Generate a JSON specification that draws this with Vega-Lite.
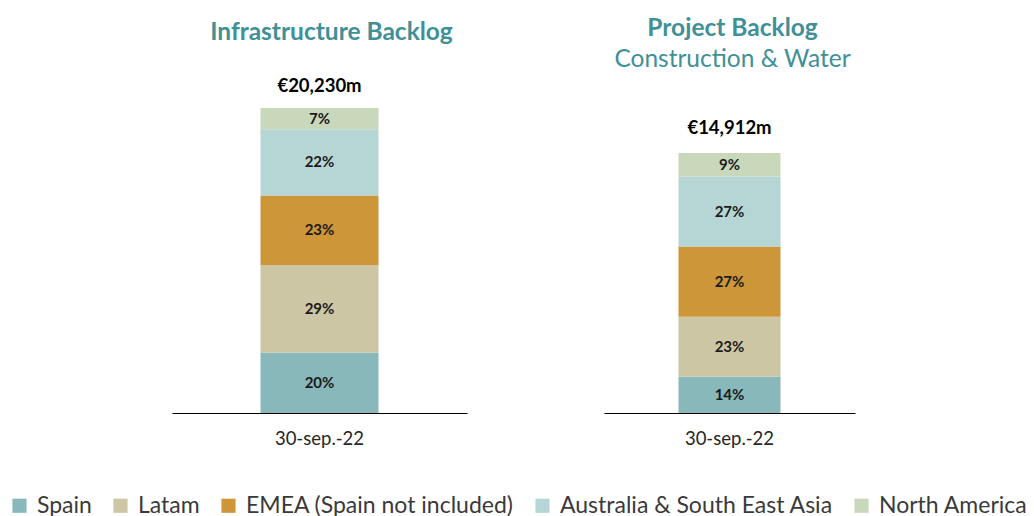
{
  "$schema": "https://vega.github.io/schema/vega-lite/v6.json",
  "background": "white",
  "padding": {"left": 8, "top": 16, "right": 0, "bottom": 0},
  "bounds": "flush",
  "spacing": 137,
  "config": {
    "font": "Lato",
    "view": {"stroke": null},
    "title": {"fontSize": 24.5, "fontWeight": "bold", "color": "#3f9097", "anchor": "middle", "font": "Lato"},
    "axis": {"grid": false}
  },
  "datasets": {
    "segments": [
      {"panel": "Infrastructure", "date": "30-sep.-22", "region": "Spain", "rank": 1, "share": 0.20},
      {"panel": "Infrastructure", "date": "30-sep.-22", "region": "Latam", "rank": 2, "share": 0.29},
      {"panel": "Infrastructure", "date": "30-sep.-22", "region": "EMEA (Spain not included)", "rank": 3, "share": 0.23},
      {"panel": "Infrastructure", "date": "30-sep.-22", "region": "Australia & South East Asia", "rank": 4, "share": 0.22},
      {"panel": "Infrastructure", "date": "30-sep.-22", "region": "North America", "rank": 5, "share": 0.07},
      {"panel": "Project", "date": "30-sep.-22", "region": "Spain", "rank": 1, "share": 0.14},
      {"panel": "Project", "date": "30-sep.-22", "region": "Latam", "rank": 2, "share": 0.23},
      {"panel": "Project", "date": "30-sep.-22", "region": "EMEA (Spain not included)", "rank": 3, "share": 0.27},
      {"panel": "Project", "date": "30-sep.-22", "region": "Australia & South East Asia", "rank": 4, "share": 0.27},
      {"panel": "Project", "date": "30-sep.-22", "region": "North America", "rank": 5, "share": 0.09}
    ],
    "totals": [
      {"panel": "Infrastructure", "label": "€20,230m"},
      {"panel": "Project", "label": "€14,912m"}
    ]
  },
  "resolve": {"scale": {"x": "independent", "y": "independent", "color": "shared"}},
  "hconcat": [
    {
      "width": 295,
      "height": 338,
      "title": {"text": "Infrastructure Backlog", "offset": 30, "dx": 12},
      "data": {"name": "segments"},
      "transform": [{"filter": "datum.panel === 'Infrastructure'"}],
      "encoding": {
        "x": {
          "field": "date", "type": "nominal", "title": null,
          "axis": {"labelAngle": 0, "labelFontSize": 18.5, "labelColor": "#262626", "domainColor": "#000000", "domainWidth": 1, "ticks": false, "labelPadding": 16}
        }
      },
      "layer": [
        {
          "mark": {"type": "bar", "width": 118},
          "encoding": {
            "y": {"field": "share", "type": "quantitative", "stack": "zero", "axis": null, "scale": {"domain": [0, 1.1193], "nice": false}},
            "color": {
              "field": "region", "type": "nominal",
              "scale": {
                "domain": ["Spain", "Latam", "EMEA (Spain not included)", "Australia & South East Asia", "North America"],
                "range": ["#88b8b9", "#cdc6a5", "#cc9639", "#b6d6d6", "#c9d7bb"]
              },
              "legend": {
                "orient": "none", "legendX": -164, "legendY": 419, "direction": "horizontal", "title": null,
                "symbolType": "square", "symbolSize": 200, "symbolStrokeWidth": 0,
                "labelFontSize": 23, "labelColor": "#3a3a3a", "labelOffset": 6, "columnPadding": 17, "labelLimit": 400, "labelFont": "Lato"
              }
            },
            "order": {"field": "rank", "type": "quantitative"}
          }
        },
        {
          "mark": {"type": "text", "fontSize": 15, "fontWeight": "bold", "color": "#1a1a1a", "baseline": "middle"},
          "encoding": {
            "y": {"field": "share", "type": "quantitative", "stack": "zero", "bandPosition": 0.5},
            "detail": {"field": "region"},
            "order": {"field": "rank", "type": "quantitative"},
            "text": {"field": "share", "type": "quantitative", "format": ".0%"}
          }
        },
        {
          "transform": [
            {"aggregate": [{"op": "sum", "field": "share", "as": "top"}], "groupby": ["date", "panel"]},
            {"lookup": "panel", "from": {"data": {"name": "totals"}, "key": "panel", "fields": ["label"]}}
          ],
          "mark": {"type": "text", "fontSize": 18.5, "fontWeight": "bold", "color": "#000000", "baseline": "middle", "dy": -22},
          "encoding": {
            "y": {"field": "top", "type": "quantitative"},
            "text": {"field": "label"}
          }
        }
      ]
    },
    {
      "width": 251,
      "height": 338,
      "title": {"text": "Project Backlog", "subtitle": "Construction & Water", "subtitleFontSize": 24.5, "subtitleColor": "#3f9097", "subtitleFontWeight": "normal", "subtitleFont": "Lato", "subtitlePadding": 6, "offset": 3, "dx": 3},
      "data": {"name": "segments"},
      "transform": [{"filter": "datum.panel === 'Project'"}],
      "encoding": {
        "x": {
          "field": "date", "type": "nominal", "title": null,
          "axis": {"labelAngle": 0, "labelFontSize": 18.5, "labelColor": "#262626", "domainColor": "#000000", "domainWidth": 1, "ticks": false, "labelPadding": 16}
        }
      },
      "layer": [
        {
          "mark": {"type": "bar", "width": 102},
          "encoding": {
            "y": {"field": "share", "type": "quantitative", "stack": "zero", "axis": null, "scale": {"domain": [0, 1.3], "nice": false}},
            "color": {"field": "region", "type": "nominal"},
            "order": {"field": "rank", "type": "quantitative"}
          }
        },
        {
          "mark": {"type": "text", "fontSize": 15, "fontWeight": "bold", "color": "#1a1a1a", "baseline": "middle"},
          "encoding": {
            "y": {"field": "share", "type": "quantitative", "stack": "zero", "bandPosition": 0.5},
            "detail": {"field": "region"},
            "order": {"field": "rank", "type": "quantitative"},
            "text": {"field": "share", "type": "quantitative", "format": ".0%"}
          }
        },
        {
          "transform": [
            {"aggregate": [{"op": "sum", "field": "share", "as": "top"}], "groupby": ["date", "panel"]},
            {"lookup": "panel", "from": {"data": {"name": "totals"}, "key": "panel", "fields": ["label"]}}
          ],
          "mark": {"type": "text", "fontSize": 18.5, "fontWeight": "bold", "color": "#000000", "baseline": "middle", "dy": -25},
          "encoding": {
            "y": {"field": "top", "type": "quantitative"},
            "text": {"field": "label"}
          }
        }
      ]
    }
  ]
}
